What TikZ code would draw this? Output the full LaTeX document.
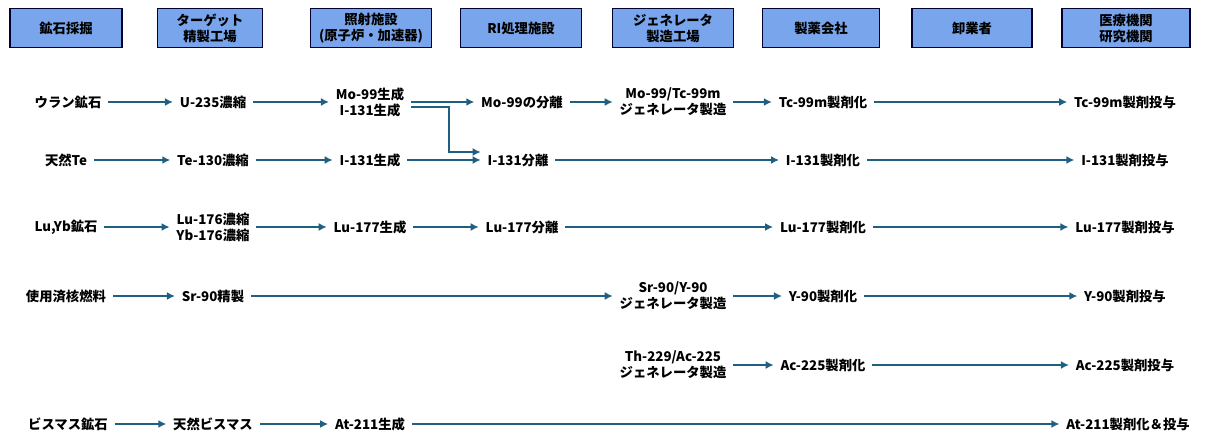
\documentclass[tikz,border=0pt]{standalone}
\usepackage{fontspec}
\setmainfont{Noto Sans CJK JP}
\usetikzlibrary{arrows.meta}
\tikzset{
  head/.style={draw=black!80!blue, line width=1.2pt, fill={rgb,255:red,120;green,165;blue,235},
    minimum height=29pt, align=center, font=\bfseries, inner sep=1pt},
  item/.style={align=center, font=\bfseries, inner sep=5pt},
  flow/.style={-{Latex[length=6pt,width=6pt]}, line width=1.5pt, draw={rgb,255:red,31;green,96;blue,130}}
}
\begin{document}
\begin{tikzpicture}[x=0.75pt, y=-0.75pt]
\useasboundingbox (0,0) rectangle (1206,442);
% headers
\node[head, minimum width=84pt] (h1) at (66,28) {鉱石採掘};
\node[head, minimum width=79pt] (h2) at (210,28) {ターゲット\\精製工場};
\node[head, minimum width=91pt] (h3) at (371,28) {照射施設\\(原子炉・加速器)};
\node[head, minimum width=91pt] (h4) at (521,28) {RI処理施設};
\node[head, minimum width=91pt] (h5) at (673,28) {ジェネレータ\\製造工場};
\node[head, minimum width=88pt] (h6) at (821,28) {製薬会社};
\node[head, minimum width=90pt] (h7) at (972,28) {卸業者};
\node[head, minimum width=96pt] (h8) at (1126,28) {医療機関\\研究機関};
% row 1
\node[item] (u1) at (68,102) {ウラン鉱石};
\node[item] (u2) at (213,102) {U-235濃縮};
\node[item] (u3) at (370,102) {Mo-99生成\\I-131生成};
\node[item] (u4) at (522,102) {Mo-99の分離};
\node[item] (u5) at (673,102) {Mo-99/Tc-99m\\ジェネレータ製造};
\node[item] (u6) at (823,102) {Tc-99m製剤化};
\node[item] (u7) at (1125,102) {Tc-99m製剤投与};
\draw[flow] (u1) -- (u2);
\draw[flow] (u2) -- (u3);
\draw[flow] (u3.east |- 0,102) -- (u4);
\draw[flow] (u4) -- (u5);
\draw[flow] (u5.east |- 0,102) -- (u6);
\draw[flow] (u6) -- (u7);
% row 2
\node[item] (t1) at (66,160) {天然Te};
\node[item] (t2) at (213,160) {Te-130濃縮};
\node[item] (t3) at (370,160) {I-131生成};
\node[item] (t4) at (518,160) {I-131分離};
\node[item] (t6) at (823,160) {I-131製剤化};
\node[item] (t7) at (1125,160) {I-131製剤投与};
\coordinate (bend) at (449,107);
\draw[flow] (t1) -- (t2);
\draw[flow] (t2) -- (t3);
\draw[flow] (t3) -- (t4);
\draw[flow] (u3.east |- 0,107) -- (bend) |- ([yshift=6pt]t4.west);
\draw[flow] (t4) -- (t6);
\draw[flow] (t6) -- (t7);
% row 3
\node[item] (l1) at (66,227) {Lu,Yb鉱石};
\node[item] (l2) at (213,227) {Lu-176濃縮\\Yb-176濃縮};
\node[item] (l3) at (370,227) {Lu-177生成};
\node[item] (l4) at (522,227) {Lu-177分離};
\node[item] (l6) at (823,227) {Lu-177製剤化};
\node[item] (l7) at (1125,227) {Lu-177製剤投与};
\draw[flow] (l1) -- (l2);
\draw[flow] (l2) -- (l3);
\draw[flow] (l3) -- (l4);
\draw[flow] (l4) -- (l6);
\draw[flow] (l6) -- (l7);
% row 4
\node[item] (s1) at (66,296) {使用済核燃料};
\node[item] (s2) at (213,296) {Sr-90精製};
\node[item] (s5) at (673,296) {Sr-90/Y-90\\ジェネレータ製造};
\node[item] (s6) at (823,296) {Y-90製剤化};
\node[item] (s7) at (1125,296) {Y-90製剤投与};
\draw[flow] (s1) -- (s2);
\draw[flow] (s2) -- (s5.west |- 0,296);
\draw[flow] (s5.east |- 0,296) -- (s6);
\draw[flow] (s6) -- (s7);
% row 5
\node[item] (a5) at (673,365) {Th-229/Ac-225\\ジェネレータ製造};
\node[item] (a6) at (823,365) {Ac-225製剤化};
\node[item] (a7) at (1125,365) {Ac-225製剤投与};
\draw[flow] (a5.east |- 0,365) -- (a6);
\draw[flow] (a6) -- (a7);
% row 6
\node[item] (b1) at (68,424) {ビスマス鉱石};
\node[item] (b2) at (213,424) {天然ビスマス};
\node[item] (b3) at (370,424) {At-211生成};
\node[item] (b7) at (1128,424) {At-211製剤化＆投与};
\draw[flow] (b1) -- (b2);
\draw[flow] (b2) -- (b3);
\draw[flow] (b3) -- (b7);
\end{tikzpicture}
\end{document}
